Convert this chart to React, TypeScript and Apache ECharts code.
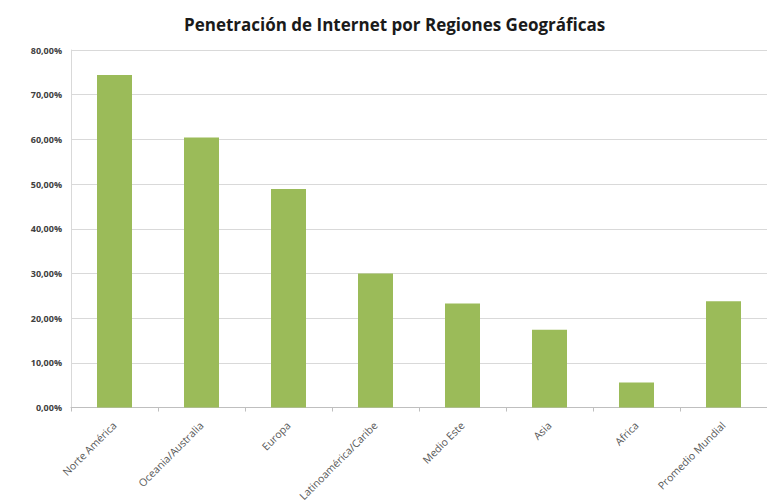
import React, { useEffect, useRef } from "react";
import * as echarts from "echarts";

const categories = [
  "Norte América",
  "Oceania/Australia",
  "Europa",
  "Latinoamérica/Caribe",
  "Medio Este",
  "Asia",
  "Africa",
  "Promedio Mundial",
];
const values = [74.4, 60.4, 48.9, 30.0, 23.3, 17.4, 5.6, 23.8];
const yTicks = [0, 10, 20, 30, 40, 50, 60, 70, 80];

export default function App() {
  const ref = useRef<HTMLDivElement>(null);
  useEffect(() => {
    if (!ref.current) return;
    const chart = echarts.init(ref.current, undefined, { renderer: "svg" });
    chart.setOption({
      animation: false,
      backgroundColor: "#ffffff",
      title: {
        text: "Penetración de Internet por Regiones Geográficas",
        left: 179,
        top: 11,
        textStyle: {
          fontFamily: "Open Sans",
          fontWeight: "bold",
          fontSize: 17,
          color: "#1a1a1a",
        },
      },
      grid: { left: 71, top: 50, width: 707, height: 363, containLabel: false },
      xAxis: {
        type: "category",
        data: categories,
        axisLine: { show: true, lineStyle: { color: "#bfbfbf" } },
        axisTick: { show: true, length: 4, lineStyle: { color: "#bfbfbf" } },
        axisLabel: {
          rotate: 45,
          interval: 0,
          fontFamily: "Open Sans",
          fontSize: 10.5,
          color: "#595959",
          margin: 16,
        },
      },
      yAxis: {
        type: "value",
        min: yTicks[0],
        max: yTicks[yTicks.length - 1],
        interval: 10,
        axisLine: { show: true, lineStyle: { color: "#d9d9d9" } },
        axisTick: { show: false },
        splitLine: { show: true, lineStyle: { color: "#d9d9d9" } },
        axisLabel: {
          fontFamily: "Open Sans",
          fontSize: 9,
          fontWeight: "bold",
          color: "#404040",
          margin: 9,
          formatter: (v: number) => v.toFixed(2).replace(".", ",") + "%",
        },
      },
      series: [
        {
          type: "bar",
          data: values,
          barWidth: 35,
          itemStyle: { color: "#9bbb59" },
        },
      ],
    });
    return () => chart.dispose();
  }, []);
  return <div ref={ref} style={{ width: 767, height: 504, position: "absolute", left: 0, top: 0 }} />;
}
